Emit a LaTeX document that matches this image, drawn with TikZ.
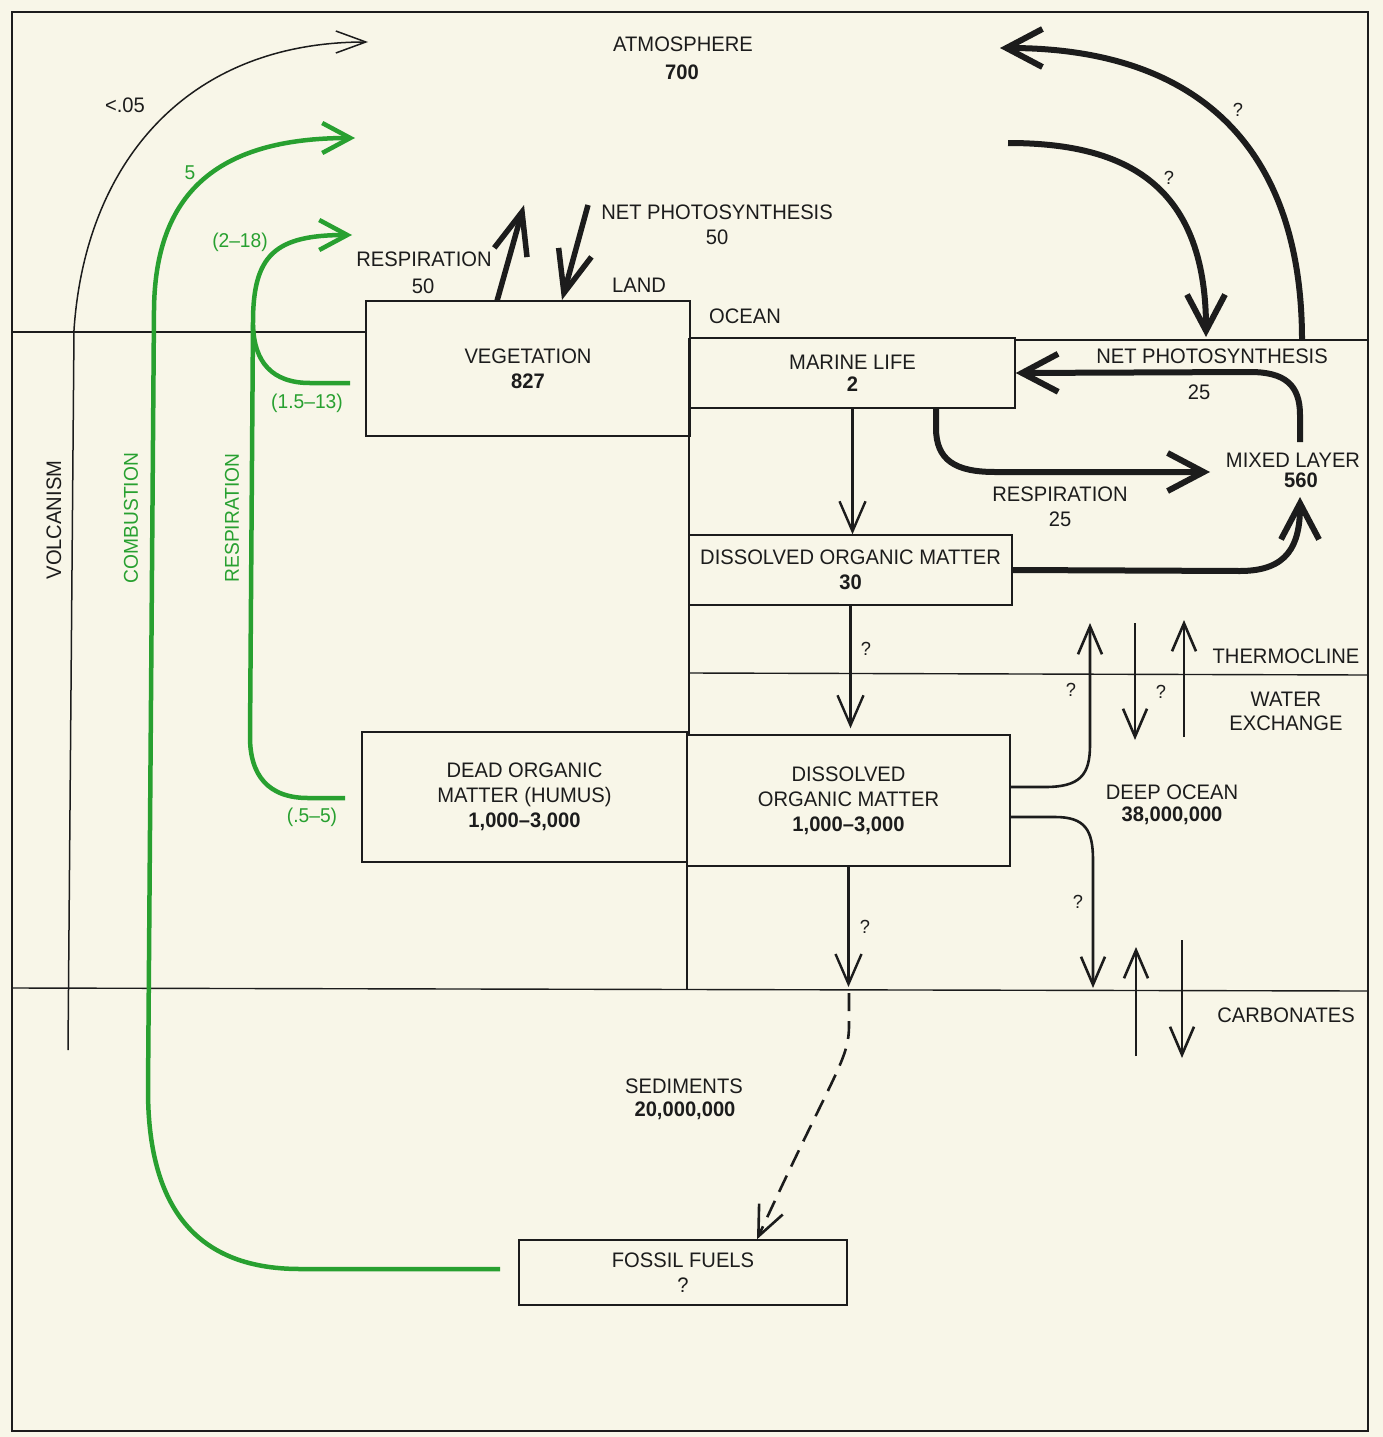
\documentclass[tikz,border=0pt]{standalone}
\usepackage{fontspec}
\setmainfont{Liberation Sans}[FakeStretch=0.96]
\usetikzlibrary{arrows.meta}
\definecolor{bg}{RGB}{248,246,232}
\definecolor{ink}{RGB}{28,28,28}
\definecolor{grn}{RGB}{40,160,48}
\begin{document}
\begin{tikzpicture}[x=1pt,y=-1pt,
  lbl/.style={font=\fontsize{21}{25}\selectfont, text=ink, inner sep=0pt, align=center},
  qm/.style={font=\fontsize{19}{20}\selectfont, text=ink, inner sep=0pt},
  glbl/.style={font=\fontsize{20}{22}\selectfont, text=grn, inner sep=0pt},
  box/.style={draw=ink, line width=1.4pt, inner sep=0pt, align=center, font=\fontsize{21}{25}\selectfont, text=ink},
  frameline/.style={draw=ink, line width=1.4pt},
  bigarrow/.style={draw=ink, line width=6pt, -{Straight Barb[length=36pt,width=38pt]}},
  landarrow/.style={draw=ink, line width=5.5pt, -{Straight Barb[length=42pt,width=34pt]}},
  colarrow/.style={draw=ink, line width=2.4pt, -{Straight Barb[length=30pt,width=26pt]}},
  wxarrow/.style={draw=ink, line width=2.6pt, -{Straight Barb[length=28pt,width=24pt]}},
  volcarrow/.style={draw=ink, line width=1.5pt, -{Straight Barb[length=30pt,width=22pt]}},
  garrow/.style={draw=grn, line width=4.5pt, -{Straight Barb[length=28pt,width=30pt]}},
  gline/.style={draw=grn, line width=4.5pt},
]
\fill[bg] (0,0) rectangle (1383,1437);
\useasboundingbox (0,0) rectangle (1383,1437);

% frame and layer lines
\draw[frameline] (12,12) rectangle (1368,1431);
\draw[frameline] (12,332) -- (366,332);
\draw[frameline] (1015,340) -- (1368,340);
\draw[frameline] (689,338) -- (689,735);
\draw[frameline] (687,862) -- (687,989);
\draw[frameline] (689,673) -- (1368,675);
\draw[frameline] (12,988) -- (1368,991);

% boxes
\node[box, minimum width=324pt, minimum height=135pt] (veg) at (528,368.5) {VEGETATION\\\textbf{827}};
\node[box, minimum width=325pt, minimum height=70pt] (marine) at (852.5,373) {MARINE LIFE\\[-3pt]\textbf{2}};
\node[box, minimum width=323pt, minimum height=70pt] (dom) at (850.5,570) {DISSOLVED ORGANIC MATTER\\\textbf{30}};
\node[box, minimum width=325pt, minimum height=130pt] (dead) at (524.5,797) {DEAD ORGANIC\\MATTER (HUMUS)\\\textbf{1,000–3,000}};
\node[box, minimum width=323pt, minimum height=131pt] (deep) at (848.5,800.5) {DISSOLVED\\ORGANIC MATTER\\\textbf{1,000–3,000}};
\node[box, minimum width=328pt, minimum height=65pt] (fossil) at (683,1272.5) {FOSSIL FUELS\\?};

% labels
\node[lbl] (atm) at (683,44) {ATMOSPHERE};
\node[lbl] (atmv) at (682,72) {\textbf{700}};
\node[lbl] (lnp) at (717,212) {NET PHOTOSYNTHESIS};
\node[lbl] (lnpv) at (717,237) {50};
\node[lbl] (lres) at (424,259) {RESPIRATION};
\node[lbl] (lresv) at (423,286) {50};
\node[lbl] (land) at (639,285) {LAND};
\node[lbl] (ocean) at (745,316) {OCEAN};
\node[lbl] (onp) at (1212,356) {NET PHOTOSYNTHESIS};
\node[lbl] (onpv) at (1199,392) {25};
\node[lbl] (mixed) at (1293,460) {MIXED LAYER};
\node[lbl] (mixedv) at (1301,480) {\textbf{560}};
\node[lbl] (ores) at (1060,494) {RESPIRATION};
\node[lbl] (oresv) at (1060,519) {25};
\node[lbl] (thermo) at (1286,656) {THERMOCLINE};
\node[lbl] (wex) at (1286,711) {WATER\\[-1pt]EXCHANGE};
\node[lbl] (deepo) at (1172,792) {DEEP OCEAN};
\node[lbl] (deepov) at (1172,816) {\textbf{38,000,000}};
\node[lbl] (carb) at (1286,1015) {CARBONATES};
\node[lbl] (sed) at (684,1086) {SEDIMENTS};
\node[lbl] (sedv) at (685,1111) {\textbf{20,000,000}};
\node[lbl] (volclbl) at (125,105) {<.05};
\node[lbl, rotate=90] (volc) at (54,520) {VOLCANISM};
\node[glbl, rotate=90] (comb) at (131,518) {COMBUSTION};
\node[glbl, rotate=90] (gres) at (232,518) {RESPIRATION};
\node[glbl] (g5) at (190,173) {5};
\node[glbl] (g218) at (240,242) {(2–18)};
\node[glbl] (g1513) at (307,403) {(1.5–13)};
\node[glbl] (g55) at (312,817) {(.5–5)};
\node[qm] (q1) at (1238,110) {?};
\node[qm] (q2) at (1169,178) {?};
\node[qm] (q3) at (866,649) {?};
\node[qm] (q4) at (1071,690) {?};
\node[qm] (q5) at (1161,692) {?};
\node[qm] (q6) at (1078,902) {?};
\node[qm] (q7) at (865,927) {?};

% coordinates for free ends
\coordinate (vbot) at (68,1050);
\coordinate (vtip) at (368,42);
\coordinate (cstart) at (500,1269);
\coordinate (ctip) at (355,138);
\coordinate (rstart) at (345,798);
\coordinate (rtip) at (352,235);
\coordinate (rvstart) at (350,383);
\coordinate (rjoin) at (253,325);
\coordinate (lrs) at (497,301);
\coordinate (lrt) at (524,205);
\coordinate (lps) at (588,205);
\coordinate (lpt) at (562,300);
\coordinate (a1s) at (1302,340);
\coordinate (a1t) at (1000,48);
\coordinate (a2s) at (1008,143);
\coordinate (a2t) at (1206,337);
\coordinate (mls) at (1300,442);
\coordinate (mlt) at (1300,497);
\coordinate (orestip) at (1210,472);
\coordinate (w1t) at (1090,623);
\coordinate (w2s) at (1135,623);
\coordinate (w2t) at (1135,740);
\coordinate (w3s) at (1184,737);
\coordinate (w3t) at (1184,620);
\coordinate (w4t) at (1093,988);
\coordinate (c1s) at (1136,1056);
\coordinate (c1t) at (1136,947);
\coordinate (c2s) at (1182,940);
\coordinate (c2t) at (1182,1058);
\coordinate (sedtip) at (848.5,987);
\coordinate (dashs) at (849,993);

% volcanism
\draw[volcarrow] (vbot) -- (74,330) .. controls (85,165) and (185,42) .. (vtip);
% combustion
\draw[garrow] (cstart) -- (300,1269) .. controls (190,1269) and (148,1200) .. (148,1090) -- (154,310) .. controls (155,195) and (215,138) .. (ctip);
% respiration (land)
\draw[garrow] (rstart) -- (308,798) .. controls (268,798) and (250,775) .. (250,737) -- (253,322) .. controls (253,255) and (275,235) .. (rtip);
\draw[gline] (rvstart) -- (310,383) .. controls (272,383) and (254,362) .. (rjoin);

% land exchanges
\draw[landarrow] (lrs) -- (lrt);
\draw[landarrow] (lps) -- (lpt);

% ocean - atmosphere
\draw[bigarrow] (a1s) .. controls (1302,160) and (1210,48) .. (a1t);
\draw[bigarrow] (a2s) .. controls (1120,143) and (1206,180) .. (a2t);
\draw[bigarrow] (mls) -- (1300,415) .. controls (1300,385) and (1285,372) .. (1250,372) -- (marine.east);
\draw[bigarrow] (936,408) -- (936,428) .. controls (936,460) and (955,472) .. (995,472) -- (orestip);
\draw[bigarrow] (dom.east) -- (1240,571) .. controls (1288,571) and (1300,545) .. (mlt);

% ocean column
\draw[colarrow] (marine.south) -- (marine.south |- dom.north);
\draw[colarrow, shorten >=6pt] (dom.south) -- (dom.south |- deep.north);
\draw[colarrow] (deep.south) -- (sedtip);
\draw[draw=ink, line width=2.6pt, dash pattern=on 18pt off 10pt, -{Straight Barb[length=30pt,width=26pt]}] (dashs) -- (849,1025) .. controls (849,1060) and (835,1070) .. (fossil.north -| 757,0);

% water exchange
\draw[wxarrow] (1010,787) -- (1045,787) .. controls (1080,787) and (1090,775) .. (1090,745) -- (w1t);
\draw[wxarrow] (w2s) -- (w2t);
\draw[wxarrow] (w3s) -- (w3t);
\draw[wxarrow] (1010,817) -- (1055,817) .. controls (1085,817) and (1093,830) .. (1093,860) -- (w4t);
\draw[wxarrow] (c1s) -- (c1t);
\draw[wxarrow] (c2s) -- (c2t);
\end{tikzpicture}
\end{document}
